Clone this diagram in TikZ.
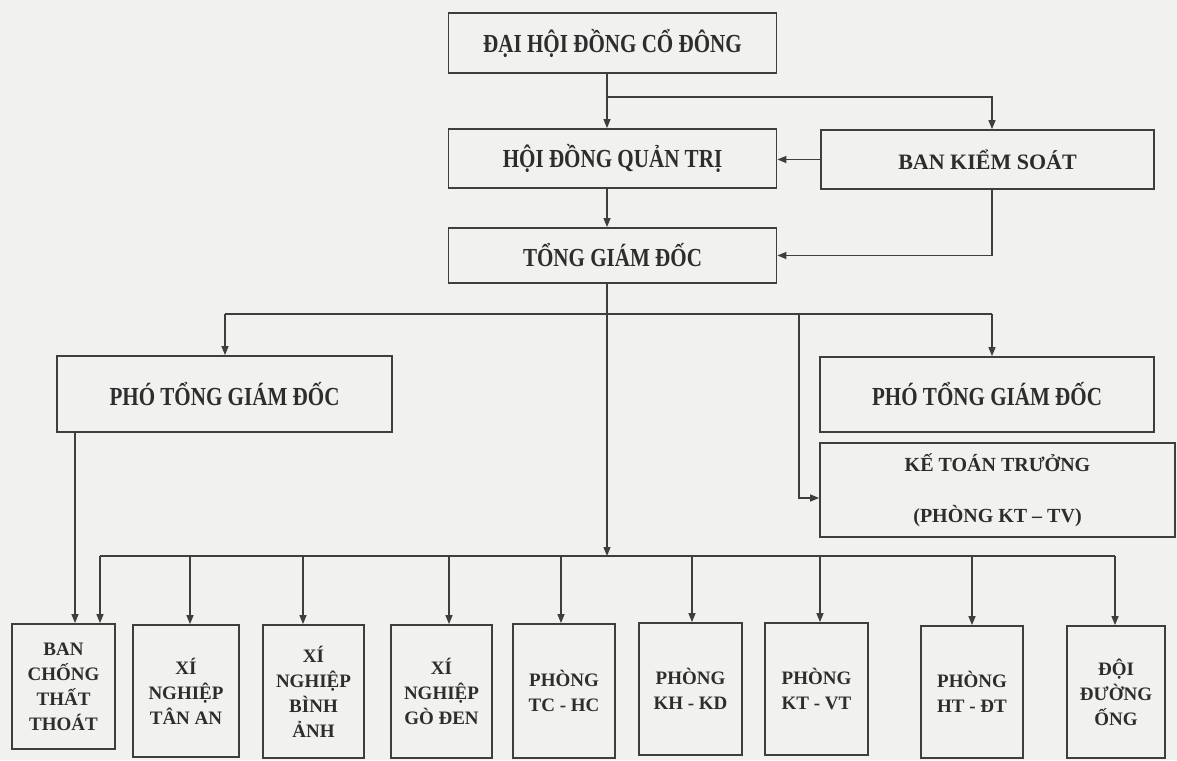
\documentclass[tikz,border=0pt]{standalone}
\usepackage{fontspec}
\setmainfont{Liberation Serif}
\newfontfamily\condfont[FakeStretch=0.81]{Liberation Serif}
\usetikzlibrary{arrows.meta}
\definecolor{bg}{RGB}{241,241,239}
\definecolor{ink}{RGB}{45,45,45}
\definecolor{linec}{RGB}{62,62,62}
\tikzset{
  box/.style={draw=linec, line width=1.8pt, inner sep=0pt, align=center, text=ink},
  conn/.style={draw=linec, line width=1.3pt},
  arr/.style={conn, -{Triangle[length=9pt,width=7pt]}},
  bigtxt/.style={font=\fontsize{26}{30}\condfont\bfseries},
  midtxt/.style={font=\fontsize{22}{26}\selectfont\bfseries},
  ktttxt/.style={font=\fontsize{20}{51}\selectfont\bfseries},
  smalltxt/.style={font=\fontsize{19}{25}\selectfont\bfseries},
}
\begin{document}
\begin{tikzpicture}[x=1pt,y=-1pt]
\fill[bg] (0,0) rectangle (1177,760);
\useasboundingbox (0,0) rectangle (1177,760);

% upper boxes
\node[box,bigtxt,minimum width=328pt,minimum height=60pt] (dh) at (612.5,43) {ĐẠI HỘI ĐỒNG CỔ ĐÔNG};
\node[box,bigtxt,minimum width=328pt,minimum height=59pt] (hd) at (612.5,158.5) {HỘI ĐỒNG QUẢN TRỊ};
\node[box,midtxt,minimum width=333pt,minimum height=59pt] (bks) at (987.5,159.5) {BAN KIỂM SOÁT};
\node[box,bigtxt,minimum width=328pt,minimum height=55pt] (tgd) at (612.5,255.5) {TỔNG GIÁM ĐỐC};
\node[box,bigtxt,minimum width=335pt,minimum height=76pt] (pl) at (224.5,394) {PHÓ TỔNG GIÁM ĐỐC};
\node[box,bigtxt,minimum width=334pt,minimum height=75pt] (pr) at (987,394.5) {PHÓ TỔNG GIÁM ĐỐC};
\node[box,ktttxt,minimum width=355pt,minimum height=94pt] (ktt) at (997.5,490) {KẾ TOÁN TRƯỞNG\\(PHÒNG KT – TV)};

% lower boxes
\node[box,smalltxt,minimum width=103pt,minimum height=125pt] (bc) at (63.5,686.5) {BAN\\CHỐNG\\THẤT\\THOÁT};
\node[box,smalltxt,minimum width=106pt,minimum height=132pt] (ta) at (186,691) {XÍ\\NGHIỆP\\TÂN AN};
\node[box,smalltxt,minimum width=101pt,minimum height=133pt] (ba) at (313.5,691.5) {XÍ\\NGHIỆP\\BÌNH\\ẢNH};
\node[box,smalltxt,minimum width=101pt,minimum height=133pt] (gd) at (441.5,691.5) {XÍ\\NGHIỆP\\GÒ ĐEN};
\node[box,smalltxt,minimum width=102pt,minimum height=134pt] (tc) at (564,691) {PHÒNG\\TC - HC};
\node[box,smalltxt,minimum width=103pt,minimum height=132pt] (kh) at (690.5,689) {PHÒNG\\KH - KD};
\node[box,smalltxt,minimum width=103pt,minimum height=132pt] (kt) at (816.5,689) {PHÒNG\\KT - VT};
\node[box,smalltxt,minimum width=102pt,minimum height=132pt] (ht) at (972,692) {PHÒNG\\HT - ĐT};
\node[box,smalltxt,minimum width=98pt,minimum height=132pt] (dd) at (1116,692) {ĐỘI\\ĐƯỜNG\\ỐNG};

% helper coordinates
\coordinate (xm) at (607,0);
\coordinate (xk) at (992,0);
\coordinate (j1) at (607,97);
\coordinate (j3) at (607,556);
\coordinate (tl) at (225,314);
\coordinate (tr) at (992,314);
\coordinate (tk) at (799,314);
\coordinate (k1) at (0,498);
\coordinate (b0) at (75,0);
\coordinate (bl) at (100,556);
\coordinate (br) at (1115,556);

% top connectors
\draw[arr] (dh.south -| xm) -- (hd.north -| xm);
\draw[arr] (j1) -| (bks.north -| xk);
\draw[arr] (bks.west) -- (bks.west -| hd.east);
\draw[arr] (bks.south -| xk) |- (tgd.east);
\draw[arr] (hd.south -| xm) -- (tgd.north -| xm);
\draw[arr] (tgd.south -| xm) -- (j3);

% middle connectors
\draw[conn] (tl) -- (tr);
\draw[arr] (tl) -- (tl |- pl.north);
\draw[arr] (tr) -- (tr |- pr.north);
\draw[arr] (tk) |- (ktt.west |- k1);

% bottom connectors
\draw[arr] (pl.south -| b0) -- (bc.north -| b0);
\draw[conn] (bl) -- (br);
\draw[arr] (bl) -- (bl |- bc.north);
\foreach \n/\x in {ta/190, ba/303, gd/449, tc/561, kh/692, kt/820, ht/972, dd/1115}{
  \coordinate (c\n) at (\x,556);
  \draw[arr] (c\n) -- (c\n |- \n.north);
}
\end{tikzpicture}
\end{document}
